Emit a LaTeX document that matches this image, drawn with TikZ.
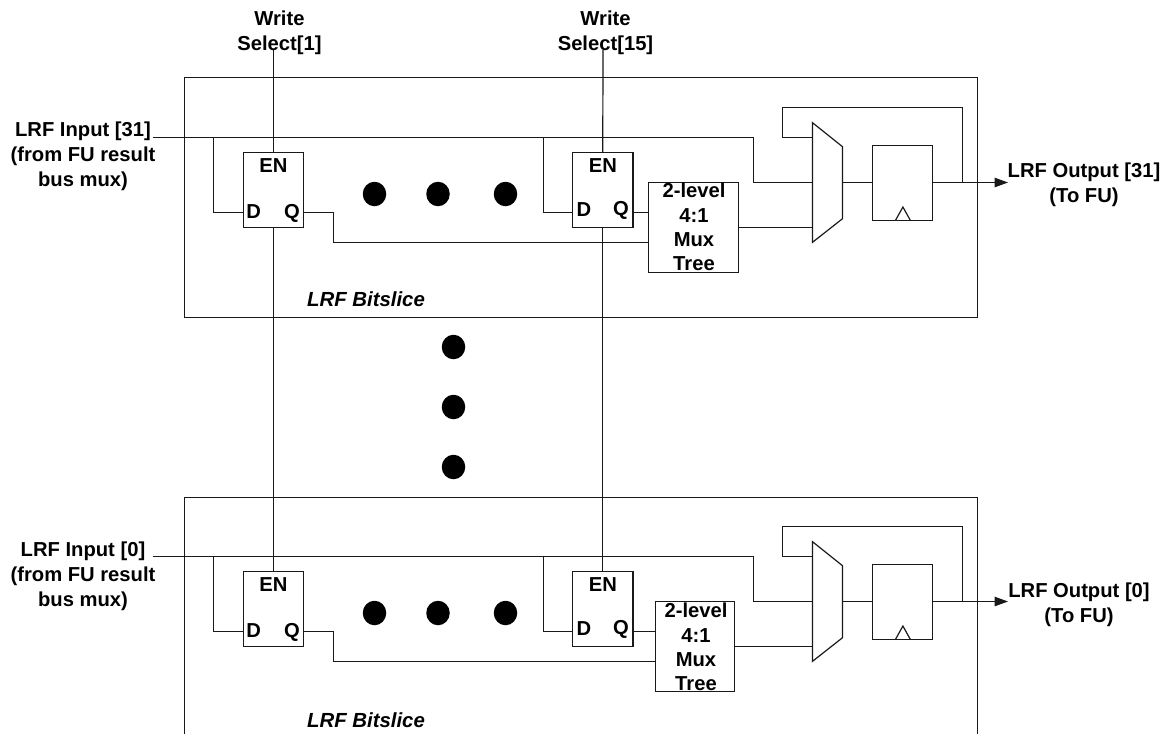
\documentclass[tikz,border=0pt]{standalone}
\usepackage{fontspec}
\setmainfont{Liberation Sans}
\usetikzlibrary{arrows.meta,shapes.geometric}
\tikzset{
  x=1pt,y=-1pt,
  wire/.style={line width=1.2pt,black!90},
  blockbox/.style={draw,line width=1.2pt,black!90,rectangle,inner sep=0pt,outer sep=0pt,anchor=north west},
  lbl/.style={font=\fontsize{20.2}{24.9}\selectfont\bfseries,align=center,inner sep=0pt,text=black},
  treelbl/.style={font=\fontsize{20.2}{24.4}\selectfont\bfseries,align=center,inner sep=0pt,text=black},
  slicelbl/.style={font=\fontsize{20.4}{25}\selectfont\bfseries\itshape,inner sep=0pt,text=black},
  blob/.style={fill=black,draw=none,ellipse,minimum width=23.5pt,minimum height=24.5pt,inner sep=0pt},
}
\begin{document}
\begin{tikzpicture}
\useasboundingbox (0,0) rectangle (1174,734);
% signal sources above the slices
\node[lbl] (ws1) at (279.5,33) {Write\\Select[1]};
\node[lbl] (ws15) at (605.5,33) {Write\\Select[15]};
\coordinate (ws1s) at (273.5,50);
\coordinate (ws15s) at (603,50);
% two bitslices
\foreach \s/\o/\tx/\tw in {t/0/648.5/90, b/419/655.5/79}{
\begin{scope}[yshift=-\o pt]
  \node[blockbox,minimum width=60pt,minimum height=75pt] (ffa\s) at (243.5,152.5) {};
  \node[blockbox,minimum width=60.5pt,minimum height=75pt] (ffb\s) at (572.5,152.5) {};
  \node[blockbox,minimum width=\tw pt,minimum height=90pt] (tree\s) at (\tx,182.5) {};
  \node[blockbox,minimum width=60pt,minimum height=75pt] (reg\s) at (872.5,145.5) {};
  \node[lbl] (ena\s) at (273.5,166) {EN};
  \node[lbl] (da\s) at (253.7,212) {D};
  \node[lbl] (qa\s) at (292,213) {Q};
  \node[lbl] (enb\s) at (603,166) {EN};
  \node[lbl] (db\s) at (584,209.5) {D};
  \node[lbl] (qb\s) at (621,210.5) {Q};
  \node[blob] (h1\s) at (374.5,194) {};
  \node[blob] (h2\s) at (438,194) {};
  \node[blob] (h3\s) at (505.5,194) {};
  % named pins
  \coordinate (in\s) at (153,137.5);
  \coordinate (ja\s) at (213.5,137.5);
  \coordinate (jb\s) at (543.5,137.5);
  \coordinate (pda\s) at (243.5,212.5);
  \coordinate (pdb\s) at (572.5,212.5);
  \coordinate (pqa\s) at (303.5,212.5);
  \coordinate (pqb\s) at (633,212.5);
  \coordinate (tq\s) at (\tx,212.5);
  \coordinate (tq2\s) at (\tx,242.5);
  \coordinate (to\s) at (\tx+\tw,227.5);
  \coordinate (m1\s) at (812.5,122.7);
  \coordinate (m2\s) at (842.5,146.7);
  \coordinate (m3\s) at (842.5,218.7);
  \coordinate (m4\s) at (812.5,242.3);
  \coordinate (ma\s) at (812.5,137.5);
  \coordinate (mb\s) at (812.5,182.5);
  \coordinate (mc\s) at (812.5,227.5);
  \coordinate (mo\s) at (842.5,182.5);
  \coordinate (ri\s) at (872.5,182.5);
  \coordinate (ro\s) at (932.5,182.5);
  \coordinate (fb\s) at (962.5,182.5);
  \coordinate (end\s) at (1008,182.5);
  \coordinate (c1\s) at (895.4,220.5);
  \coordinate (c2\s) at (902.9,207);
  \coordinate (c3\s) at (910.4,220.5);
  % mux and clock mark
  \draw[wire] (m1\s) -- (m2\s) -- (m3\s) -- (m4\s) -- cycle;
  \draw[wire] (c1\s) -- (c2\s) -- (c3\s);
  % wires
  \draw[wire] (in\s) -- (753.5,137.5) -- (753.5,182.5) -- (mb\s);
  \draw[wire] (ja\s) |- (pda\s);
  \draw[wire] (jb\s) |- (pdb\s);
  \draw[wire] (pqa\s) -- (333.5,212.5) |- (tq2\s);
  \draw[wire] (pqb\s) -- (tq\s);
  \draw[wire] (to\s) -- (mc\s);
  \draw[wire] (ma\s) -- (782.5,137.5) -- (782.5,107.5) -| (fb\s);
  \draw[wire] (mo\s) -- (ri\s);
  \draw[wire,-{Triangle[length=13.5pt,width=9.5pt]}] (ro\s) -- (end\s);
\end{scope}
}
% tree captions
\node[treelbl] (tt) at (694,227) {2-level\\4:1\\Mux\\Tree};
\node[treelbl] (tb) at (696,647) {2-level\\4:1\\Mux\\Tree};
% slice outlines
\coordinate (bl) at (184.5,734);
\coordinate (br) at (977.5,734);
\node[blockbox,minimum width=793pt,minimum height=240pt] (slicet) at (184.5,77.5) {};
\draw[wire] (bl) |- (977.5,497.5) -- (br);
\node[slicelbl] (bst) at (366,299) {LRF Bitslice};
\node[slicelbl] (bsb) at (366,720.5) {LRF Bitslice};
% vertical ellipsis
\node[blob] (v1) at (453.5,347) {};
\node[blob] (v2) at (453.5,407) {};
\node[blob] (v3) at (453.5,467) {};
% write selects
\draw[wire] (ws1s) -- (ffat.north);
\draw[wire] (ws15s) -- (ffbt.north);
\draw[wire] (ffat.south) -- (ffab.north);
\draw[wire] (ffbt.south) -- (ffbb.north);
% outer labels
\node[lbl] (it) at (83,156.5) {LRF Input [31]\\(from FU result\\bus mux)};
\node[lbl] (ib) at (83,576) {LRF Input [0]\\(from FU result\\bus mux)};
\node[lbl] (ot) at (1084,185) {LRF Output [31]\\(To FU)};
\node[lbl] (ob) at (1079,605) {LRF Output [0]\\(To FU)};
\end{tikzpicture}
\end{document}
